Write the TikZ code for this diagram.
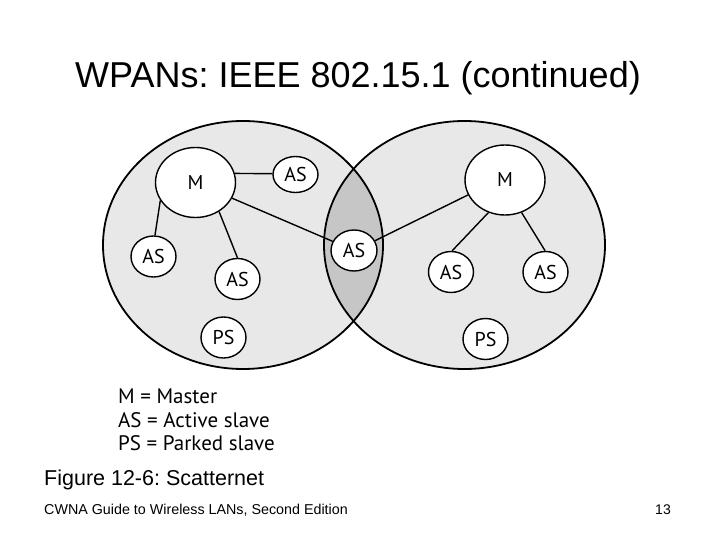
\documentclass[tikz,border=0pt]{standalone}
\usepackage{fontspec}
\setmainfont{Liberation Sans}
\newfontfamily\figfont{PT Sans}
\usetikzlibrary{shapes.geometric}
\frenchspacing
\begin{document}
\begin{tikzpicture}[x=1pt,y=-1pt,
  dev/.style={ellipse,draw=black,line width=1.4pt,fill=white,inner sep=0pt,
    font=\figfont\fontsize{20}{22}\selectfont},
  master/.style={dev,minimum width=80pt,minimum height=70pt},
  slave/.style={dev,minimum width=45pt,minimum height=41pt},
  link/.style={line width=1.4pt},
  cell/.style={line width=1.8pt,draw=black},
  legend/.style={anchor=west,inner sep=0pt,font=\figfont\fontsize{21}{23}\selectfont}]
\useasboundingbox (0,0) rectangle (720,540);
\fill[white] (0,0) rectangle (720,540);
% piconets
\fill[gray!18] (243,245) ellipse [x radius=140,y radius=124];
\fill[gray!18] (464.5,245) ellipse [x radius=140.5,y radius=124];
\begin{scope}
  \clip (243,245) ellipse [x radius=140,y radius=124];
  \fill[gray!45] (464.5,245) ellipse [x radius=140.5,y radius=124];
\end{scope}
\draw[cell] (243,245) ellipse [x radius=140,y radius=124];
\draw[cell] (464.5,245) ellipse [x radius=140.5,y radius=124];
% nodes
\node[master] (ML) at (195.5,182.5) {M};
\node[slave,minimum height=36pt] (AStop) at (295.5,174.5) {AS};
\node[slave] (ASa) at (153.5,256.5) {AS};
\node[slave] (ASb) at (237.5,279) {AS};
\node[slave] (PSL) at (223.5,337.5) {PS};
\node[slave,minimum width=46pt] (ASc) at (354,250.5) {AS};
\node[master] (MR) at (505,180) {M};
\node[slave] (ASd) at (451,272) {AS};
\node[slave] (ASe) at (545.5,272) {AS};
\node[slave] (PSR) at (485.5,339) {PS};
% links
\draw[link] (ML.13) -- (AStop.178);
\draw[link] (ML) -- (ASc);
\draw[link] (ML.207) -- (ASa.86);
\draw[link] (ML.-51) -- (ASb.90);
\draw[link] (MR.202) -- (ASc.25);
\draw[link] (MR.243) -- (ASd.87);
\draw[link] (MR.-63) -- (ASe.91);
% legend
\node[legend] (l1) at (118,396) {M = Master};
\node[legend] (l2) at (118,420) {AS = Active slave};
\node[legend] (l3) at (118,443) {PS = Parked slave};
% texts
\node[font=\fontsize{36}{40}\selectfont,inner sep=0pt] (title) at (358,78) {WPANs: IEEE 802.15.1 (continued)};
\node[font=\fontsize{21.5}{24}\selectfont,anchor=west,inner sep=0pt] (cap) at (44,480) {Figure 12-6: Scatternet};
\node[font=\fontsize{14.3}{16}\selectfont,anchor=west,inner sep=0pt] (foot) at (44,510) {CWNA Guide to Wireless LANs, Second Edition};
\node[font=\fontsize{14}{16}\selectfont,anchor=east,inner sep=0pt] (page) at (671,510) {13};
\end{tikzpicture}
\end{document}
